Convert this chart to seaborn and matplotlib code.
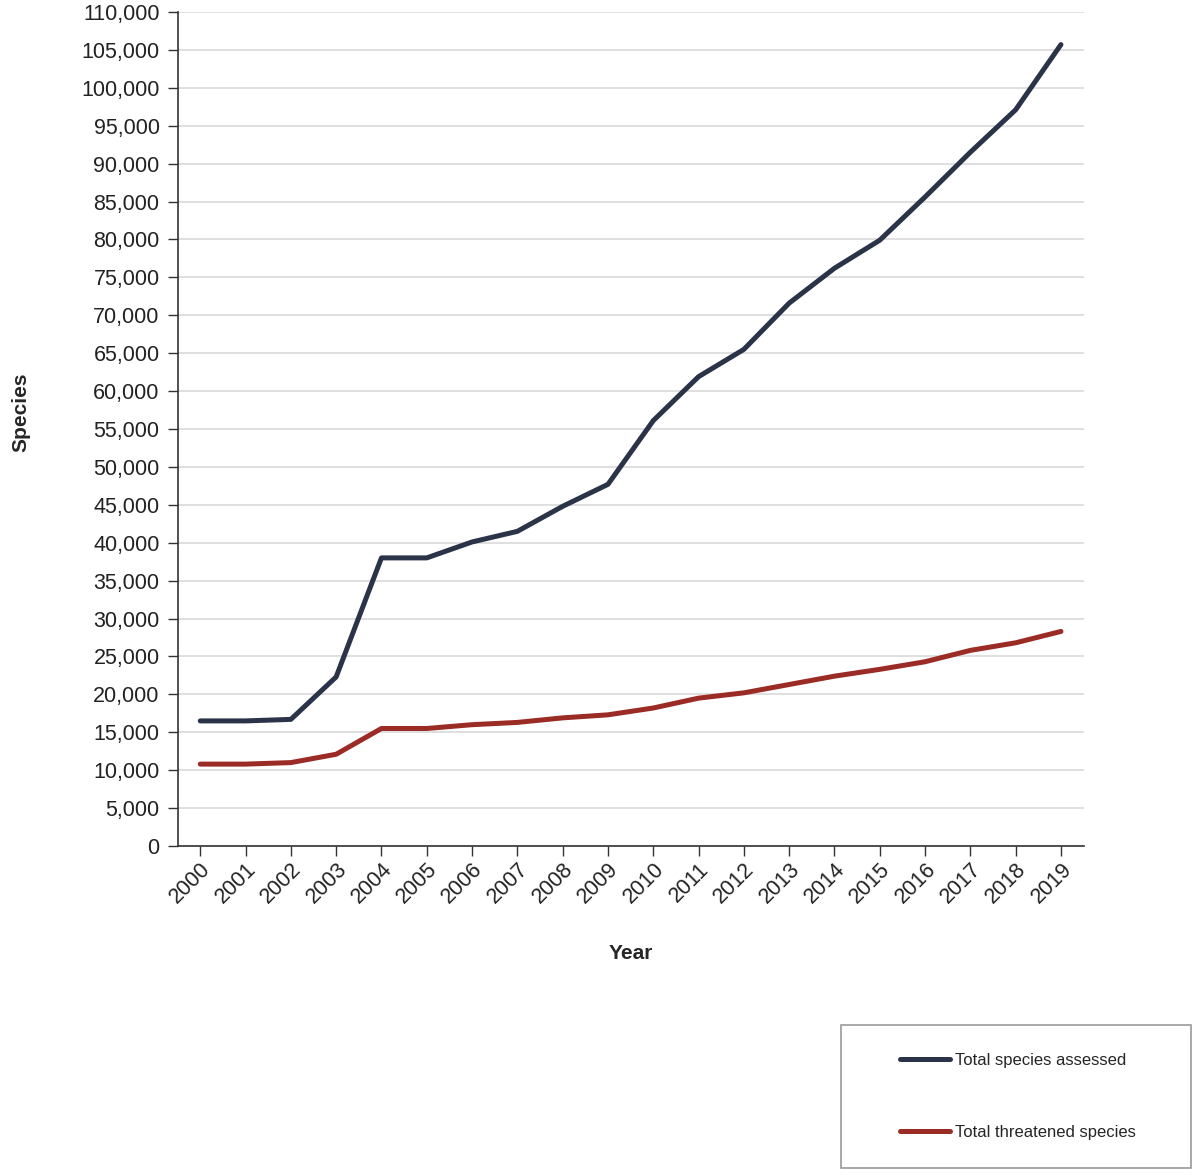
import pandas as pd
import matplotlib.pyplot as plt
import seaborn as sns
from matplotlib.patches import Rectangle
from matplotlib.ticker import FuncFormatter, MultipleLocator

years = [str(y) for y in range(2000, 2020)]
assessed = [16500, 16500, 16700, 22300, 38000, 38000, 40100, 41500, 44800, 47700,
            56100, 61900, 65500, 71600, 76200, 79900, 85600, 91500, 97100, 105700]
threatened = [10800, 10800, 11000, 12100, 15500, 15500, 16000, 16300, 16900, 17300,
              18200, 19500, 20200, 21300, 22400, 23300, 24300, 25800, 26800, 28300]
series_names = ['Total species assessed', 'Total threatened species']
series_colors = ['#2b3349', '#9b2b25']

df = pd.DataFrame({
    'Year': years * 2,
    'Species': assessed + threatened,
    'Series': [series_names[0]] * len(years) + [series_names[1]] * len(years),
})

sns.set_style("white")
plt.rcParams['font.family'] = ['Liberation Sans', 'DejaVu Sans']

fig = plt.figure(figsize=(12, 11.75), dpi=100)
ax = fig.add_axes([0.148, 0.28, 0.755, 0.7098])

sns.lineplot(data=df, x='Year', y='Species', hue='Series', palette=series_colors,
             linewidth=3.6, ax=ax, legend=False, sort=False)

ax.set_xlim(-0.5, 19.5)
ax.set_ylim(0, 110000)
ax.yaxis.set_major_locator(MultipleLocator(5000))
ax.yaxis.set_major_formatter(FuncFormatter(lambda v, p: f"{int(v):,}"))
ax.grid(axis='y', color='#d6d6d6', linewidth=1.1)
ax.set_axisbelow(True)

for side in ['top', 'right']:
    ax.spines[side].set_visible(False)
for side in ['left', 'bottom']:
    ax.spines[side].set_color('#333333')
    ax.spines[side].set_linewidth(1.2)

ax.tick_params(axis='y', direction='out', length=7, width=1, color='#333333',
               labelsize=15.5, pad=6, left=True, labelcolor='#222222')
ax.tick_params(axis='x', direction='out', length=7, width=1, color='#333333',
               labelsize=15.5, pad=2, bottom=True, labelcolor='#222222')
plt.setp(ax.get_xticklabels(), rotation=45, ha='right', rotation_mode='anchor')

ax.set_xlabel('Year', fontsize=15, fontweight='bold', labelpad=26)
ax.set_ylabel('Species', fontsize=15, fontweight='bold', labelpad=0)
ax.yaxis.set_label_coords(-0.162, 0.52)

# legend box in figure pixels
fig.patches.append(Rectangle((841 / 1200, 1 - 1168 / 1175), 350 / 1200, 143 / 1175,
                             transform=fig.transFigure, facecolor='white',
                             edgecolor='#999999', linewidth=1.2))
handles = [plt.Line2D([], [], color=c, linewidth=3.6) for c in series_colors]
leg = fig.legend(handles, series_names, loc='upper left',
                 bbox_to_anchor=(900 / 1200, 1 - 1053 / 1175),
                 fontsize=12, frameon=False, handlelength=3.0, handletextpad=0.3,
                 labelspacing=3.42, borderpad=0, borderaxespad=0)

fig.savefig('out.png', dpi=100)
